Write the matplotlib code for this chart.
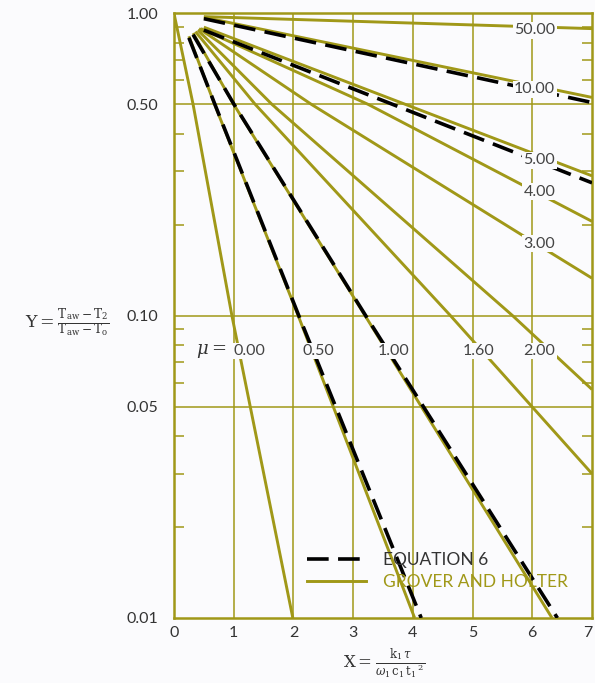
import matplotlib
matplotlib.use("Agg")
import matplotlib.pyplot as plt
import numpy as np
from matplotlib.lines import Line2D
from matplotlib.ticker import FixedLocator, NullFormatter

plt.rcParams['font.family'] = ['Lato', 'DejaVu Sans']
plt.rcParams['mathtext.fontset'] = 'dejavuserif'

OLIVE = '#a09818'
INK = '#333333'

# Grover and Holter curves, keyed by mu
gh_mu = ['0.00', '0.50', '1.00', '1.60', '2.00', '3.00', '4.00', '5.00', '10.00', '50.00']
gh_x = [
    [0.00, 0.32, 0.97, 1.99],
    [0.25, 0.68, 2.08, 4.03],
    [0.32, 1.00, 3.20, 6.33],
    [0.36, 1.36, 4.63, 7.00],
    [0.40, 1.64, 5.67, 7.00],
    [0.42, 2.30, 6.00, 7.00],
    [0.45, 3.25, 5.78, 7.00],
    [0.50, 7.00],
    [0.50, 7.00],
    [0.50, 7.00],
]
gh_y = [
    [1.00, 0.50, 0.10, 0.010],
    [0.84, 0.50, 0.10, 0.010],
    [0.86, 0.50, 0.10, 0.010],
    [0.87, 0.50, 0.10, 0.030],
    [0.88, 0.50, 0.10, 0.057],
    [0.89, 0.50, 0.176, 0.133],
    [0.89, 0.50, 0.274, 0.205],
    [0.90, 0.29],
    [0.97, 0.527],
    [0.975, 0.89],
]

# Equation 6 curves
eq_mu = ['0.50', '1.00', '5.00', '10.00']
eq_x = [
    [0.25, 0.685, 2.09, 4.14],
    [0.32, 1.005, 3.21, 6.42],
    [0.50, 7.00],
    [0.50, 7.00],
]
eq_y = [
    [0.83, 0.50, 0.10, 0.010],
    [0.85, 0.50, 0.10, 0.010],
    [0.88, 0.275],
    [0.96, 0.507],
]

# curve labels
lab_text = ['50.00', '10.00', '5.00', '4.00', '3.00', '2.00', '1.60', '1.00', '0.50', '0.00']
lab_x = [6.04, 6.04, 6.12, 6.12, 6.12, 6.12, 5.10, 3.67, 2.42, 1.26]
lab_y = [0.88, 0.56, 0.326, 0.257, 0.173, 0.0764, 0.0764, 0.0764, 0.0764, 0.0764]

y_major = [0.01, 0.05, 0.10, 0.50, 1.00]
y_major_lab = ['0.01', '0.05', '0.10', '0.50', '1.00']
y_minor = [0.02, 0.03, 0.04, 0.06, 0.07, 0.08, 0.09, 0.2, 0.3, 0.4, 0.6, 0.7, 0.8, 0.9]
x_ticks = [0, 1, 2, 3, 4, 5, 6, 7]

fig = plt.figure(figsize=(5.95, 6.83), dpi=100)
fig.patch.set_facecolor('#fbfbfd')
ax = fig.add_axes([0.2924, 0.0952, 0.7026, 0.8853])
ax.set_facecolor('#fbfbfd')
ax.set_yscale('log')
ax.set_xlim(0, 7)
ax.set_ylim(0.01, 1.0)

# grid
for xv in x_ticks[1:-1]:
    ax.axvline(xv, color=OLIVE, lw=1.1, zorder=1)
for yv in [0.05, 0.10, 0.50]:
    ax.axhline(yv, color=OLIVE, lw=1.1, zorder=1)

for xs, ys in zip(gh_x, gh_y):
    ax.plot(xs, ys, color=OLIVE, lw=2.1, zorder=2, solid_capstyle='butt')
for xs, ys in zip(eq_x, eq_y):
    ax.plot(xs, ys, color='black', lw=2.6, zorder=3, dashes=(6, 2.6))

for t, xv, yv in zip(lab_text, lab_x, lab_y):
    ax.text(xv, yv, t, ha='center', va='center', fontsize=11.5, color='#444444', zorder=5,
            bbox=dict(facecolor='#fbfbfd', edgecolor='none', pad=1.0))
ax.text(0.62, 0.0764, r'$\mu =$', ha='center', va='center', fontsize=13, color=INK, zorder=5,
        bbox=dict(facecolor='#fbfbfd', edgecolor='none', pad=0.5))

for sp in ax.spines.values():
    sp.set_color(OLIVE)
    sp.set_linewidth(1.8)

ax.yaxis.set_major_locator(FixedLocator(y_major))
ax.set_yticklabels(y_major_lab)
ax.yaxis.set_minor_locator(FixedLocator(y_minor))
ax.yaxis.set_minor_formatter(NullFormatter())
ax.set_xticks(x_ticks)
ax.set_xticklabels([str(v) for v in x_ticks])
ax.get_xticklabels()[-1].set_horizontalalignment('right')
ax.tick_params(axis='both', which='major', length=0, labelsize=11.5, labelcolor=INK)
ax.tick_params(axis='y', which='major', pad=11)
ax.tick_params(axis='x', which='major', pad=6)
ax.tick_params(axis='y', which='minor', direction='in', length=7, width=1.1,
               color=OLIVE, left=True, right=True)

handles = [Line2D([], [], color='black', lw=2.6, dashes=(6, 2.6)),
           Line2D([], [], color=OLIVE, lw=2.1)]
leg = ax.legend(handles, ['EQUATION 6', 'GROVER AND HOLTER'], loc='lower left',
                bbox_to_anchor=(0.28, 0.02), frameon=False, handlelength=3.4,
                handletextpad=1.0, labelspacing=0.35, fontsize=12.5)
leg.get_texts()[0].set_color(INK)
leg.get_texts()[1].set_color(OLIVE)
leg.set_zorder(6)

fig.text(0.113, 0.527, r'$\mathrm{Y} = \frac{\mathrm{T_{aw}} - \mathrm{T_2}}{\mathrm{T_{aw}} - \mathrm{T_o}}$',
         ha='center', va='center', fontsize=12.5, color=INK)
fig.text(0.645, 0.003, r'$\mathrm{X} = \frac{\mathrm{k_1}\,\tau}{\omega_1\,\mathrm{c_1}\,\mathrm{t_1}^{\,2}}$',
         ha='center', va='bottom', fontsize=12, color=INK)

fig.savefig('out.png', dpi=100, facecolor=fig.get_facecolor())
